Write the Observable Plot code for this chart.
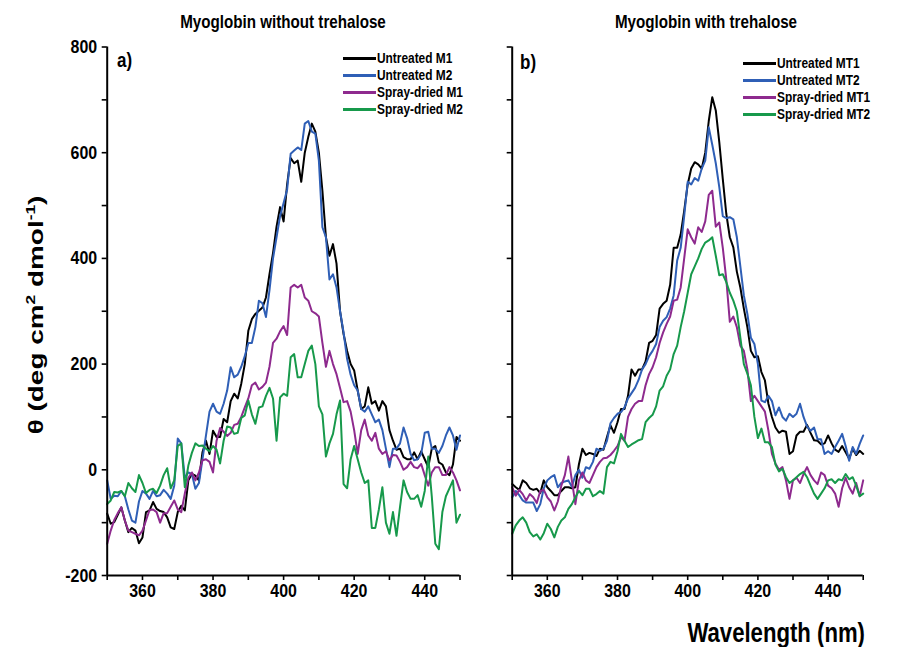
<!DOCTYPE html>
<html>
<head>
<meta charset="utf-8">
<script src="https://cdn.jsdelivr.net/npm/d3@7"></script>
<script src="https://cdn.jsdelivr.net/npm/@observablehq/plot@0.6"></script>
<style>
  body { margin: 0; background: #fff; }
  #wrap { position: relative; width: 905px; height: 647px; font-family: "Liberation Sans", Arial, sans-serif; font-weight: bold; color: #000; overflow: hidden; }
  .abs { position: absolute; white-space: nowrap; }
  .panel { position: absolute; top: 0; }
  .leg { position: absolute; font-size: 14.5px; line-height: 17px; }
  .leg .row { display: flex; align-items: center; height: 17px; white-space: nowrap; }
  .leg .sw { display: inline-block; width: 33px; height: 2.5px; margin-right: 1px; flex: none; }
  .leg .tx { display: inline-block; transform: scaleX(0.82); transform-origin: left center; }
</style>
</head>
<body>
<div id="wrap"></div>
<script>
// ---------------- data ----------------
const wavelengths = d3.range(350, 451); // nm, 1 nm steps
const tickValuesY = [-200, -100, 0, 100, 200, 300, 400, 500, 600, 700, 800];
const tickValuesX = [350, 360, 370, 380, 390, 400, 410, 420, 430, 440, 450];

const seriesLeft = ["Untreated M1", "Untreated M2", "Spray-dried M1", "Spray-dried M2"];
const seriesRight = ["Untreated MT1", "Untreated MT2", "Spray-dried MT1", "Spray-dried MT2"];
const colors = ["#000000", "#2f5fb6", "#8e2a8e", "#17994b"];

const untreatedM1 = [-83,-102,-99,-85,-71,-96,-118,-110,-115,-139,-128,-80,-77,-61,-74,-78,-80,-90,-109,-112,
  -80,-68,-77,-20,-8,-11,-20,33,55,30,74,62,62,96,90,130,144,135,163,200,
  263,285,295,301,307,326,370,410,460,497,470,540,590,580,585,545,600,630,655,640,
  600,528,440,405,427,390,300,257,225,200,188,150,115,120,156,125,130,112,130,120,
  75,55,38,40,24,20,20,33,20,35,20,5,40,45,14,10,-5,-10,10,62,55];
const untreatedM2 = [-20,-55,-49,-50,-40,-50,-75,-96,-100,-60,-40,-45,-55,-40,-50,-48,-38,-45,-55,-30,
  59,50,-15,-5,-8,-36,-25,20,65,110,125,110,106,125,150,194,175,180,195,215,
  240,240,270,320,315,289,340,400,440,480,505,530,598,604,610,605,655,660,640,636,
  585,459,440,360,370,345,300,260,210,180,160,150,115,110,120,105,90,95,75,40,
  5,40,40,50,80,60,30,18,20,30,70,72,40,40,32,45,65,80,65,38,65];
const sprayM1 = [-140,-115,-95,-82,-71,-96,-115,-118,-121,-124,-115,-96,-76,-75,-80,-100,-82,-82,-70,-58,
  -75,-80,-45,-15,-5,-20,-5,18,20,15,-5,55,79,72,64,70,85,87,100,118,
  135,160,165,152,157,165,195,240,248,262,272,255,345,350,345,350,326,320,300,296,
  290,240,195,225,200,181,155,128,130,110,75,30,75,95,65,55,70,40,30,35,
  18,28,27,15,0,5,15,5,3,11,-10,-30,-5,5,5,-10,-10,5,-5,-20,-39];
const sprayM2 = [-65,-58,-42,-43,-40,-50,-25,-35,-42,-10,-25,-44,-38,-36,-44,-30,-10,3,-35,-20,
  45,50,-33,8,32,50,45,46,40,35,45,38,12,55,82,80,68,70,98,103,
  131,105,87,118,120,140,155,135,55,137,144,140,213,219,175,175,200,225,235,200,
  120,105,25,50,68,105,131,-27,-35,20,45,20,-5,-25,-20,-110,-110,-75,-33,-100,
  -121,-80,-125,-70,-20,-42,-55,-55,-48,-70,-40,25,-50,-140,-150,-80,-50,-35,-20,-100,-85];

const untreatedMT1 = [-27,-33,-38,-20,-25,-35,-38,-36,-44,-20,-33,-40,-48,-48,-40,-33,-33,-35,-33,10,
  40,28,32,30,26,40,38,62,84,70,90,115,115,140,190,178,190,190,205,240,
  244,255,305,314,320,350,420,420,445,490,540,570,582,578,570,600,660,705,680,620,
  550,484,440,421,375,345,305,270,225,213,215,185,169,125,100,80,70,74,72,30,
  35,65,72,72,85,70,56,55,48,50,65,50,38,34,45,33,21,40,28,36,30];
const untreatedMT2 = [-52,-40,-48,-58,-62,-62,-62,-78,-65,-35,-20,-14,-10,-33,-25,-22,-20,-32,-10,0,
  -15,5,2,15,40,36,40,55,88,98,106,109,118,135,145,155,170,190,200,215,
  225,238,270,282,289,305,330,396,420,480,545,540,552,547,570,585,648,615,580,535,
  480,476,478,474,440,385,330,295,250,238,200,131,128,140,130,103,118,100,93,106,
  100,106,125,100,82,74,80,58,58,30,35,30,43,55,68,45,17,43,30,49,65];
const sprayMT1 = [-33,-49,-38,-46,-58,-46,-52,-63,-40,-38,-52,-60,-77,-60,-30,-10,25,-20,-65,-20,
  -5,-20,-25,-10,5,15,22,23,28,36,45,62,55,100,115,125,130,130,160,181,
  194,213,240,260,276,290,320,322,345,400,455,440,428,459,450,470,520,528,460,468,
  420,360,280,290,270,235,225,190,130,140,130,120,110,74,30,12,0,5,-20,-55,
  -20,-15,-25,-8,5,-10,-20,-27,-5,-10,-30,-35,-45,-70,-35,-15,-33,-45,-25,-50,-20];
const sprayMT2 = [-121,-105,-96,-90,-100,-118,-126,-122,-132,-120,-102,-112,-128,-108,-96,-90,-74,-65,-52,-40,
  -48,-36,-36,-50,-46,-40,-45,5,15,12,35,68,55,43,48,52,56,58,90,98,
  104,120,150,158,178,190,219,235,270,300,335,370,385,400,418,430,434,440,405,368,
  370,355,335,320,300,250,200,182,160,100,60,78,52,52,43,10,-3,2,-14,-25,
  -20,-14,-8,-4,-14,-30,-45,-55,-45,-35,-20,-18,-25,-18,-20,-8,-18,-14,-30,-50,-45];

// ---------------- drawing ----------------
const wrap = document.getElementById("wrap");
const FONT = "Liberation Sans, Arial, sans-serif";

function toRows(names, arrays) {
  const rows = [];
  names.forEach((n, i) => arrays[i].forEach((v, j) => rows.push({series: n, wl: wavelengths[j], v})));
  return rows;
}

function panel({names, arrays, width, marginLeft, marginRight, labels}) {
  const rows = toRows(names, arrays);
  const svg = Plot.plot({
    width, height: 610,
    marginLeft, marginRight, marginTop: 46.5, marginBottom: 35,
    style: {fontFamily: FONT, color: "#000", background: "transparent"},
    x: {domain: [350, 450]},
    y: {domain: [-200, 800]},
    color: {domain: names, range: colors},
    marks: [
      ...names.map((n, i) => Plot.line(rows.filter(r => r.series === n), {x: "wl", y: "v", stroke: colors[i], strokeWidth: 2, strokeLinejoin: "round"})),
      Plot.axisY(tickValuesY, {tickSize: 5, tickPadding: 5, strokeWidth: 1.6, fontSize: 19, fontWeight: "bold", fontFamily: FONT, label: null,
        tickFormat: d => labels && d % 200 === 0 ? String(d) : ""}),
      Plot.axisX(tickValuesX, {tickSize: 5, tickPadding: 3, strokeWidth: 1.6, fontSize: 19, fontWeight: "bold", fontFamily: FONT, label: null,
        tickFormat: d => d % 20 === 0 ? String(d) : ""}),
      Plot.ruleX([350], {strokeWidth: 2}),
      Plot.ruleY([-200], {strokeWidth: 2})
    ]
  });
  // condense tick labels horizontally (narrow bold face)
  svg.querySelectorAll("text").forEach(t => {
    const tr = t.getAttribute("transform") || "";
    t.setAttribute("transform", tr + " scale(0.84,1)");
  });
  return svg;
}

const left = panel({names: seriesLeft, arrays: [untreatedM1, untreatedM2, sprayM1, sprayM2], width: 470, marginLeft: 106.7, marginRight: 10.5, labels: true});
left.classList.add("panel"); left.style.left = "0px";
wrap.appendChild(left);

const right = panel({names: seriesRight, arrays: [untreatedMT1, untreatedMT2, sprayMT1, sprayMT2], width: 435, marginLeft: 41.7, marginRight: 42.3, labels: false});
right.classList.add("panel"); right.style.left = "470px";
wrap.appendChild(right);

function addText(html, css) {
  const d = document.createElement("div");
  d.className = "abs";
  d.innerHTML = html;
  Object.assign(d.style, css);
  wrap.appendChild(d);
  return d;
}

addText("Myoglobin without trehalose", {left: "283px", top: "22px", fontSize: "18.5px", transform: "translate(-50%,-50%) scaleX(0.82)"});
addText("Myoglobin with trehalose", {left: "706px", top: "22px", fontSize: "18.5px", transform: "translate(-50%,-50%) scaleX(0.82)"});
addText("a)", {left: "117px", top: "60px", fontSize: "20px", transform: "translate(0,-50%) scaleX(0.85)", transformOrigin: "left center"});
addText("b)", {left: "520px", top: "62px", fontSize: "20px", transform: "translate(0,-50%) scaleX(0.85)", transformOrigin: "left center"});
addText("θ (deg cm<sup style='font-size:13px'>2</sup> dmol<sup style='font-size:13px'>-1</sup>)",
  {left: "35px", top: "315px", fontSize: "21px", transform: "translate(-50%,-50%) rotate(-90deg) scaleX(1.33)"});
addText("Wavelength (nm)", {left: "865px", top: "633px", fontSize: "27px", transform: "translate(-100%,-50%) scaleX(0.82)", transformOrigin: "right center"});

function legend(names, x, y) {
  const d = document.createElement("div");
  d.className = "leg";
  d.style.left = x + "px";
  d.style.top = (y - 8.5) + "px";
  names.forEach((n, i) => {
    const r = document.createElement("div");
    r.className = "row";
    r.innerHTML = `<span class="sw" style="background:${colors[i]}"></span><span class="tx">${n}</span>`;
    d.appendChild(r);
  });
  wrap.appendChild(d);
}
legend(seriesLeft, 342.7, 58.3);
legend(seriesRight, 742.7, 63.3);
</script>
</body>
</html>
